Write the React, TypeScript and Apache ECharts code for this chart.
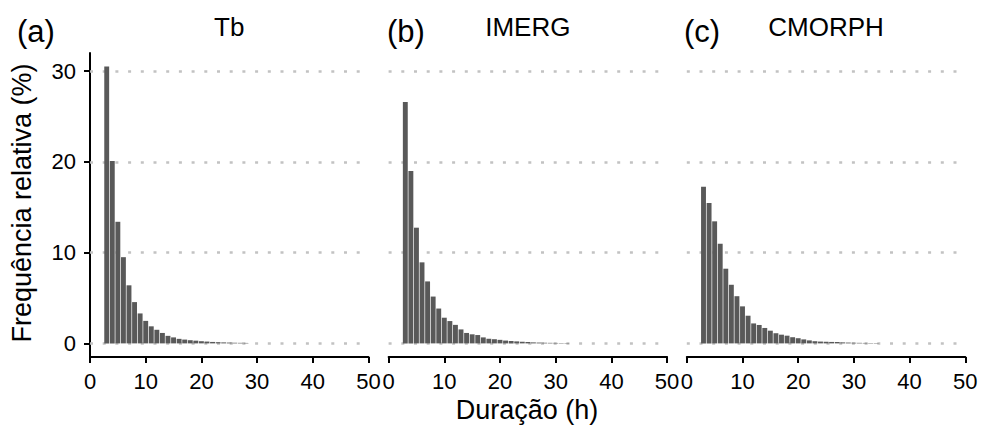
import React, { useEffect, useRef } from "react";
import * as echarts from "echarts";

const FONT = "'Liberation Sans', Arial, Helvetica, sans-serif";

const panelTitles = ["Tb", "IMERG", "CMORPH"];
const panelTags = ["(a)", "(b)", "(c)"];
const firstDuration = 3;
const valuesTb = [30.5, 20.1, 13.4, 9.5, 6.4, 4.55, 3.3, 2.48, 1.88, 1.5, 1.15, 0.83, 0.66, 0.5, 0.42, 0.35, 0.3, 0.24, 0.2, 0.16, 0.13, 0.11, 0.09, 0.07, 0.06, 0.05];
const valuesIMERG = [26.6, 19.0, 12.75, 8.93, 6.83, 5.16, 3.84, 2.83, 2.46, 2.04, 1.54, 1.15, 1.0, 0.92, 0.66, 0.51, 0.46, 0.39, 0.31, 0.26, 0.22, 0.18, 0.15, 0.11, 0.09, 0.07, 0.06, 0.05, 0.04, 0.04];
const valuesCMORPH = [17.27, 15.47, 13.45, 10.98, 8.23, 6.46, 5.2, 4.08, 3.05, 2.2, 2.03, 1.7, 1.4, 1.12, 0.96, 0.85, 0.68, 0.57, 0.44, 0.33, 0.24, 0.2, 0.18, 0.16, 0.15, 0.11, 0.09, 0.07, 0.06, 0.05, 0.04, 0.04];
const yTicks = [0, 10, 20, 30];
const xMin = 0;
const xMax = 50;
const xInterval = 10;
const yLabel = "Frequência relativa (%)";
const xLabel = "Duração (h)";

const allValues = [valuesTb, valuesIMERG, valuesCMORPH];

export default function App() {
  const ref = useRef<HTMLDivElement>(null);
  useEffect(() => {
    if (!ref.current) return;
    const chart = echarts.init(ref.current, undefined, { renderer: "svg" });
    const lefts = [90, 388.6, 686.8];
    const gw = 278.5;
    const top = 53;
    const gh = 304;
    const grids = lefts.map((l) => ({ left: l, top, width: gw, height: gh }));
    const xAxes = lefts.map((_, i) => ({
      type: "value",
      gridIndex: i,
      min: xMin,
      max: xMax,
      interval: xInterval,
      axisLine: { show: true, onZero: false, lineStyle: { color: "#000", width: 2 } },
      axisTick: { show: true, length: 6, lineStyle: { color: "#000", width: 2 } },
      axisLabel: { show: true, margin: 13, color: "#000", fontSize: 22, fontFamily: FONT, showMinLabel: true, showMaxLabel: true },
      splitLine: { show: false },
    }));
    const yAxes = lefts.map((_, i) => ({
      type: "value",
      gridIndex: i,
      min: -1.5,
      max: 32,
      axisLine: { show: i === 0, onZero: false, lineStyle: { color: "#000", width: 2 } },
      axisTick: { show: i === 0, length: 6, customValues: yTicks, lineStyle: { color: "#000", width: 2 } },
      axisLabel: { show: i === 0, margin: 14, customValues: yTicks, color: "#000", fontSize: 22, fontFamily: FONT },
      splitLine: { show: false },
    }));
    const series = allValues.map((vals, i) => ({
      type: "bar",
      xAxisIndex: i,
      yAxisIndex: i,
      barWidth: 4.9,
      z: 3,
      itemStyle: { color: "#595959" },
      data: vals.map((v, k) => [firstDuration + k, v]),
      markLine: {
        silent: true,
        z: 1,
        symbol: "none",
        label: { show: false },
        lineStyle: { color: "#c2c2c2", width: 2.5, type: [3, 9.7] },
        data: yTicks.map((t) => ({ yAxis: t })),
      },
    }));
    const graphics: any[] = [];
    lefts.forEach((l, i) => {
      graphics.push({
        type: "text",
        x: l + gw / 2,
        y: 27,
        style: { text: panelTitles[i], fill: "#000", font: `26px ${FONT}`, textAlign: "center", textVerticalAlign: "middle" },
      });
      graphics.push({
        type: "text",
        x: [17, 387, 684][i],
        y: 31,
        style: { text: panelTags[i], fill: "#000", font: `31px ${FONT}`, textAlign: "left", textVerticalAlign: "middle" },
      });
    });
    graphics.push({
      type: "text",
      x: 22,
      y: 203,
      rotation: Math.PI / 2,
      style: { text: yLabel, fill: "#000", font: `27px ${FONT}`, textAlign: "center", textVerticalAlign: "middle" },
    });
    graphics.push({
      type: "text",
      x: 527,
      y: 410,
      style: { text: xLabel, fill: "#000", font: `27px ${FONT}`, textAlign: "center", textVerticalAlign: "middle" },
    });
    chart.setOption({
      animation: false,
      backgroundColor: "#fff",
      grid: grids,
      xAxis: xAxes,
      yAxis: yAxes,
      series,
      graphic: graphics,
    } as any);
    return () => chart.dispose();
  }, []);
  return <div ref={ref} style={{ position: "fixed", left: 0, top: 0, width: 982, height: 428 }} />;
}
